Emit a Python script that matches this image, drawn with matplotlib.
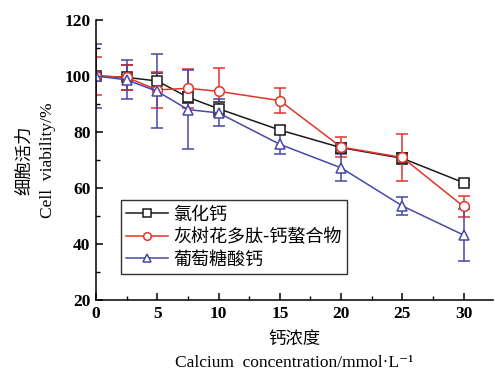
import matplotlib.pyplot as plt
from matplotlib.lines import Line2D
from matplotlib.ticker import MultipleLocator

plt.rcParams['font.family'] = ['Liberation Serif', 'DejaVu Serif', 'Noto Sans CJK SC']

conc = [0, 2.5, 5, 7.5, 10, 15, 20, 25, 30]

cacl2 = [100, 99.5, 98.2, 92.4, 88.3, 80.7, 74.4, 70.6, 61.9]
cacl2_err = [1.0, 4.5, 3.0, 2.0, 2.5, 1.5, 1.5, 2.0, 1.0]

chelate = [100, 99.5, 95.0, 95.6, 94.5, 91.2, 74.6, 70.9, 53.4]
chelate_err = [6.8, 4.5, 6.5, 7.0, 8.5, 4.6, 3.5, 8.4, 3.8]

gluconate = [100, 98.6, 94.5, 88.0, 86.8, 75.6, 67.2, 53.6, 43.2]
gluconate_err = [11.5, 7.0, 13.2, 14.2, 4.8, 3.6, 4.8, 3.3, 9.4]

labels = ['氯化钙', '灰树花多肽-钙螯合物', '葡萄糖酸钙']
colors = ['#1a1a1a', '#e3342b', '#4848a8']
markers = ['s', 'o', '^']

fig = plt.figure(figsize=(4.95, 3.76), dpi=100)
ax = fig.add_axes([0.194, 0.202, 0.802, 0.745])

handles = []
for y, err, lab, c, m in zip([cacl2, chelate, gluconate],
                             [cacl2_err, chelate_err, gluconate_err],
                             labels, colors, markers):
    ax.errorbar(conc, y, yerr=err, color=c, marker=m,
                markersize=7, markerfacecolor='white', markeredgecolor=c,
                markeredgewidth=1.1, linewidth=1.1, elinewidth=1.1,
                capsize=4, capthick=1.1)
    handles.append(Line2D([], [], color=c, marker=m, markersize=5.5,
                          markerfacecolor='white', markeredgecolor=c,
                          markeredgewidth=1.1, linewidth=1.1, label=lab))

ax.set_xlim(0, 32.4)
ax.set_ylim(20, 120)
ax.xaxis.set_major_locator(MultipleLocator(5))
ax.xaxis.set_minor_locator(MultipleLocator(2.5))
ax.yaxis.set_major_locator(MultipleLocator(20))
ax.yaxis.set_minor_locator(MultipleLocator(10))

ax.spines['right'].set_visible(False)
ax.spines['top'].set_visible(False)
for s in ['left', 'bottom']:
    ax.spines[s].set_linewidth(1.1)
ax.tick_params(which='major', direction='in', length=5, width=1.1, labelsize=12.5, pad=4)
ax.tick_params(which='minor', direction='in', length=3, width=1.0)
for t in ax.get_xticklabels() + ax.get_yticklabels():
    t.set_fontweight('bold')

ax.set_xlabel('钙浓度\nCalcium  concentration/mmol·L⁻¹', fontsize=12.5,
              linespacing=1.5, labelpad=8)
ax.set_ylabel('细胞活力\nCell  viability/%', fontsize=12.5, linespacing=1.55,
              labelpad=6)

leg = ax.legend(handles=handles, loc='lower left', bbox_to_anchor=(0.063, 0.093),
                frameon=True, fancybox=False, edgecolor='black',
                handlelength=2.3, handletextpad=0.3, labelspacing=0.25,
                borderpad=0.3, borderaxespad=0,
                prop={'family': ['Noto Sans CJK SC'], 'size': 13})
leg.get_frame().set_linewidth(1.0)

fig.savefig('out.png', dpi=100)
